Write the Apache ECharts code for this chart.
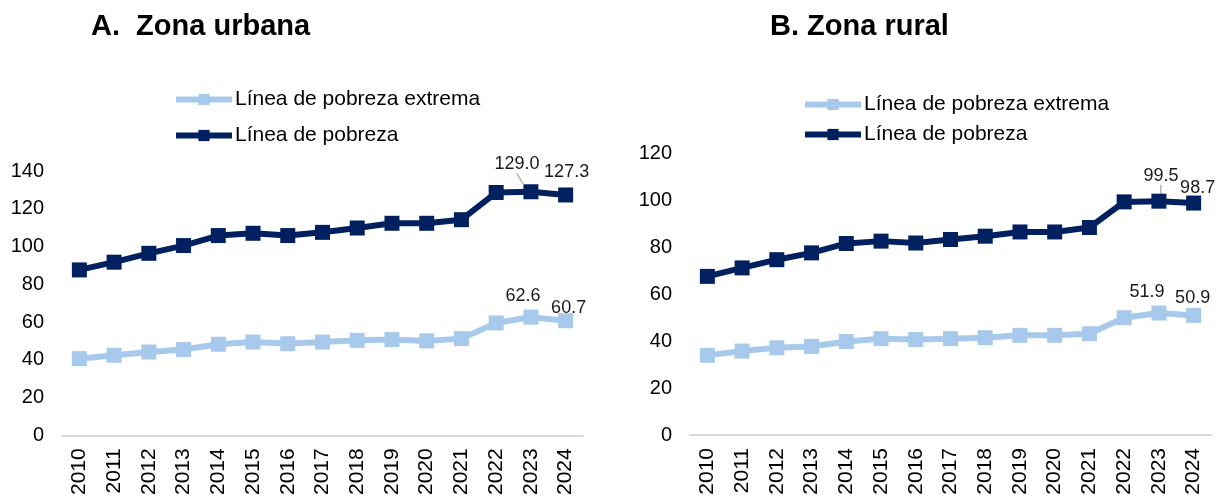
<!DOCTYPE html>
<html>
<head>
<meta charset="utf-8">
<script src="https://cdn.jsdelivr.net/npm/echarts@6/dist/echarts.min.js"></script>
<style>
  html, body { margin: 0; padding: 0; background: #fff; }
  #chart { width: 1223px; height: 498px; }
</style>
</head>
<body>
<div id="chart"></div>
<script>
const years = ['2010','2011','2012','2013','2014','2015','2016','2017','2018','2019','2020','2021','2022','2023','2024']

// A. Zona urbana
const urbanExtrema = [40.6, 42.4, 44.1, 45.4, 48.2, 49.4, 48.5, 49.4, 50.3, 50.7, 50.0, 51.2, 59.5, 62.6, 60.7]
const urbanPobreza = [87.6, 91.7, 96.4, 100.5, 105.8, 107.0, 105.8, 107.5, 109.8, 112.3, 112.3, 114.2, 128.6, 129.0, 127.3]

// B. Zona rural
const ruralExtrema = [33.9, 35.7, 37.1, 37.7, 39.8, 41.0, 40.6, 41.0, 41.4, 42.4, 42.4, 43.1, 49.9, 51.9, 50.9]
const ruralPobreza = [67.5, 71.1, 74.6, 77.5, 81.5, 82.5, 81.7, 83.2, 84.6, 86.4, 86.4, 88.3, 99.2, 99.5, 98.7]

const nameExtrema = 'Línea de pobreza extrema'
const namePobreza = 'Línea de pobreza'

const darkBlue = '#002060'
const lightBlue = '#a6c9ec'
const font = 'Liberation Sans, Arial, sans-serif'

// only the last two years carry a label
function withLabels(values, labelled, leaderIdx) {
    return values.map(function (v, i) {
        if (labelled.indexOf(i) < 0) return v
        const item = { value: v, label: { show: true } }
        if (i === leaderIdx) {
            item.labelLine = { show: true, lineStyle: { color: '#a6a6a6', width: 1.3 } }
        }
        return item
    })
}

// label shifts (px) per data index, tuned against the picture
function lineSeries(name, color, values, idx, shifts, leaderIdx) {
    return {
        name: name,
        type: 'line',
        xAxisIndex: idx,
        yAxisIndex: idx,
        data: withLabels(values, Object.keys(shifts).map(Number), leaderIdx),
        symbol: 'rect',
        symbolSize: 15,
        itemStyle: { color: color },
        lineStyle: { color: color, width: 6 },
        label: { show: false, position: 'top', distance: 5, color: '#1a1a1a', fontSize: 18, fontFamily: font,
                 formatter: function (p) { return p.value.toFixed(1) } },
        labelLayout: function (p) {
            const s = shifts[p.dataIndex]
            return s ? { dx: s[0], dy: s[1] } : {}
        },
        animation: false,
        z: name === namePobreza ? 3 : 2
    }
}

function xAxis(idx) {
    return {
        type: 'category',
        gridIndex: idx,
        data: years,
        boundaryGap: true,
        axisLine: { lineStyle: { color: '#d9d9d9', width: 2 } },
        axisTick: { show: false },
        axisLabel: { rotate: 90, color: '#000', fontSize: 21, fontFamily: font, margin: 13, interval: 0 }
    }
}

function yAxis(idx, max) {
    return {
        type: 'value',
        gridIndex: idx,
        min: 0,
        max: max,
        interval: 20,
        axisLine: { show: false },
        axisTick: { show: false },
        splitLine: { show: false },
        axisLabel: { color: '#000', fontSize: 20, fontFamily: font, margin: 18 }
    }
}

function legend(left, top, gap) {
    return {
        orient: 'vertical', left: left, top: top, itemWidth: 56, itemHeight: 14, itemGap: gap, padding: 0,
        data: [nameExtrema, namePobreza],
        lineStyle: { width: 6 },
        textStyle: { fontSize: 21, color: '#000', fontFamily: font, padding: [0, 0, 0, -2] }
    }
}

const chart = echarts.init(document.getElementById('chart'))
chart.setOption({
    backgroundColor: '#fff',
    animation: false,
    title: [
        { text: 'A.  Zona urbana', left: 86, top: 7,
          textStyle: { fontSize: 29, fontWeight: 'bold', color: '#000', fontFamily: font } },
        { text: 'B. Zona rural', left: 765, top: 7,
          textStyle: { fontSize: 29, fontWeight: 'bold', color: '#000', fontFamily: font } }
    ],
    legend: [legend(173, 89, 15), legend(802, 94, 9)],
    grid: [
        { left: 62, right: 640, top: 171, bottom: 61 },
        { left: 690, right: 12, top: 153, bottom: 63 }
    ],
    xAxis: [xAxis(0), xAxis(1)],
    yAxis: [yAxis(0, 140), yAxis(1, 120)],
    series: [
        lineSeries(nameExtrema, lightBlue, urbanExtrema, 0, { 13: [-8, 0], 14: [3, 9] }),
        lineSeries(namePobreza, darkBlue, urbanPobreza, 0, { 13: [-14, -6], 14: [1, -1] }, 13),
        lineSeries(nameExtrema, lightBlue, ruralExtrema, 1, { 13: [-12, 0], 14: [-1, 4] }),
        lineSeries(namePobreza, darkBlue, ruralPobreza, 1, { 13: [2, -4], 14: [4, 6] }, 13)
    ]
})
</script>
</body>
</html>
